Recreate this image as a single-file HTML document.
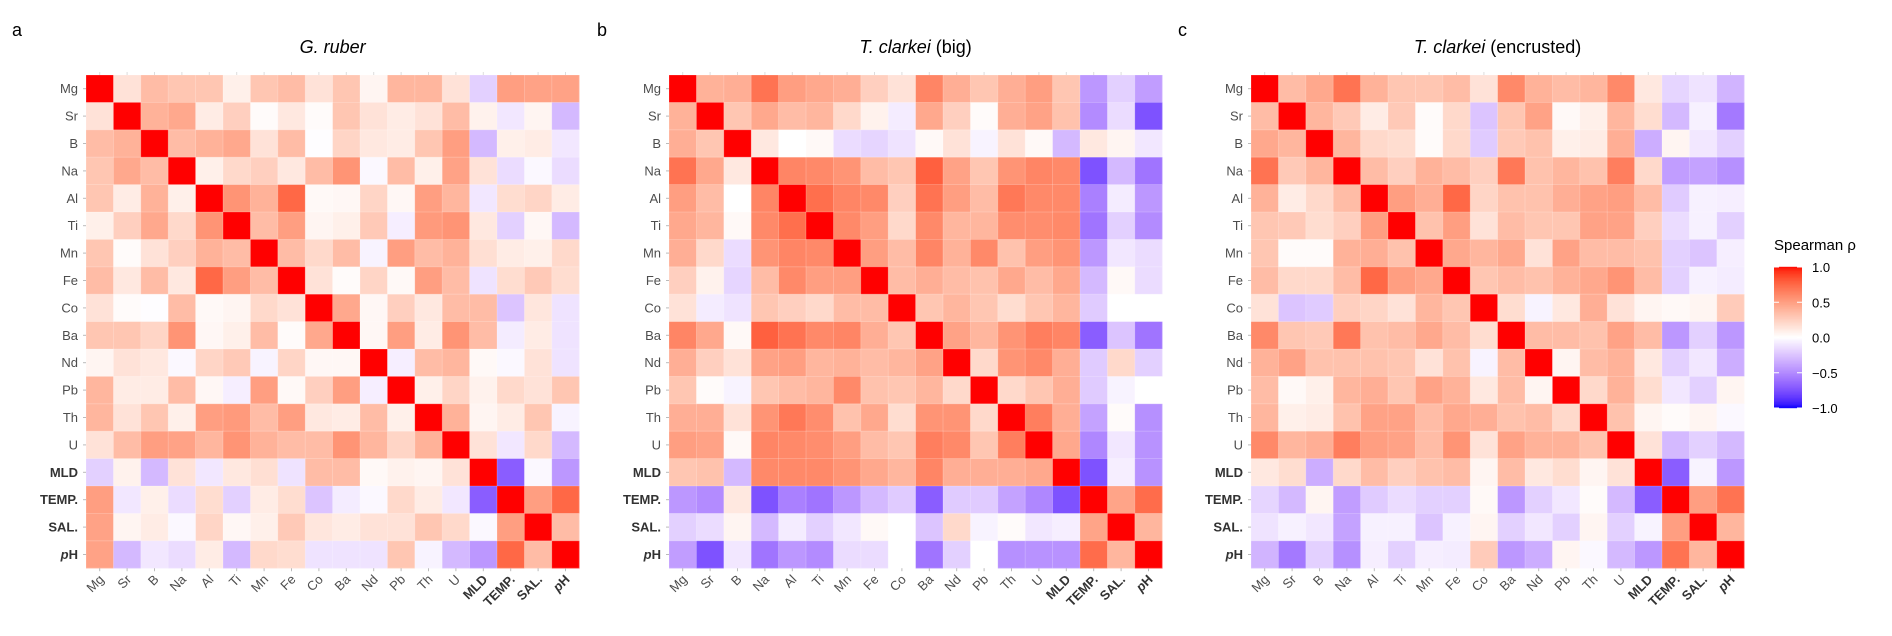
<!DOCTYPE html>
<html><head><meta charset="utf-8">
<style>
html,body{margin:0;padding:0;background:#fff;}
svg{display:block;font-family:"Liberation Sans",Arial,sans-serif;}
</style></head>
<body>
<svg id="chart" width="1892" height="636" viewBox="0 0 1892 636" xmlns="http://www.w3.org/2000/svg"></svg>
<script>
const varLabels = ["Mg","Sr","B","Na","Al","Ti","Mn","Fe","Co","Ba","Nd","Pb","Th","U","MLD","TEMP.","SAL.","pH"];
const boldLabels = ["MLD","TEMP.","SAL.","pH"];
const rubeRho = [[],
[.15],[.35,.4],[.3,.45,.35],[.3,.1,.4,.08],[.08,.25,.45,.2,.55],[.3,.02,.15,.25,.4,.35],
[.35,.12,.35,.12,.75,.5,.35],[.15,.02,-.01,.35,.03,.05,.2,.15],[.3,.3,.22,.55,.04,.08,.35,.02,.45],
[.05,.15,.12,-.03,.22,.28,-.05,.22,.04,.04],[.38,.1,.1,.35,.04,-.07,.5,.03,.25,.5,-.07],
[.38,.15,.3,.08,.5,.52,.35,.5,.12,.1,.35,.08],[.15,.35,.5,.48,.38,.55,.4,.35,.35,.55,.38,.22,.4],
[-.2,.07,-.3,.15,-.1,.12,.17,-.12,.35,.35,.03,.07,.05,.15],
[.5,-.1,.08,-.15,.18,-.2,.1,.18,-.25,-.08,-.03,.2,.1,-.1,-.7],
[.48,.05,.1,-.03,.22,.04,.08,.28,.13,.1,.15,.15,.3,.2,-.03,.5],
[.48,-.3,-.1,-.15,.1,-.3,.2,.18,-.12,-.12,-.12,.3,-.05,-.3,-.45,.75,.35]];
const bigRho = [[],
[.4],[.42,.3],[.7,.45,.12],[.5,.35,0,.62],[.45,.38,.03,.6,.72],[.42,.2,-.15,.55,.62,.6],
[.25,.07,-.18,.35,.6,.5,.5],[.15,-.08,-.12,.3,.25,.2,.35,.35],[.62,.45,.03,.78,.7,.6,.62,.42,.3],
[.42,.25,.15,.48,.5,.38,.4,.35,.38,.48],[.3,.02,-.05,.3,.35,.38,.6,.32,.3,.38,.2],
[.42,.42,.15,.55,.68,.58,.32,.45,.18,.55,.55,.2],[.5,.48,.03,.62,.6,.58,.5,.35,.3,.65,.6,.3,.65],
[.3,.32,-.3,.6,.6,.6,.55,.45,.38,.62,.42,.42,.42,.45],
[-.45,-.5,.12,-.75,-.55,-.6,-.45,-.3,-.22,-.7,-.22,-.22,-.4,-.52,-.75],
[-.2,-.15,.05,-.3,-.08,-.2,-.1,.03,0,-.25,.2,-.05,.02,-.1,-.07,.47],
[-.42,-.75,-.1,-.6,-.45,-.5,-.15,-.15,0,-.6,-.2,0,-.48,-.47,-.47,.73,.38]];
const encRho = [[],
[.35],[.45,.38],[.7,.28,.38],[.4,.1,.2,.35],[.3,.28,.18,.25,.5],[.3,.02,.02,.4,.42,.32],
[.35,.2,.2,.35,.75,.5,.45],[.15,-.25,-.22,.25,.22,.15,.38,.3],[.6,.3,.28,.68,.32,.35,.45,.35,.18],
[.4,.48,.32,.32,.32,.3,.15,.32,-.05,.35],[.35,.03,.08,.38,.42,.3,.48,.4,.12,.35,.05],
[.38,.08,.1,.32,.48,.48,.35,.45,.42,.32,.35,.2],[.6,.38,.42,.65,.5,.48,.35,.55,.15,.48,.4,.4,.32],
[.12,.18,-.35,.2,.35,.25,.32,.35,.05,.35,.12,.18,.05,.15],
[-.18,-.3,.05,-.42,-.22,-.15,-.2,-.2,.03,-.45,-.2,-.1,.02,-.3,-.7],
[-.12,-.06,-.1,-.4,-.06,-.06,-.25,-.06,.05,-.2,-.1,-.2,.05,-.2,-.05,.5],
[-.32,-.58,-.2,-.48,-.07,-.2,-.07,-.08,.27,-.45,-.35,.05,-.03,-.3,-.45,.7,.38]];
const legendTicks = [1.0,0.5,0.0,-0.5,-1.0];
const legendTickLabels = ["1.0","0.5","0.0","\u22120.5","\u22121.0"];

const NS="http://www.w3.org/2000/svg";
const svg=document.getElementById('chart');
function mk(tag,attrs,parent){const e=document.createElementNS(NS,tag);for(const k in attrs)e.setAttribute(k,attrs[k]);(parent||svg).appendChild(e);return e;}

function srgb2lin(c){c/=255;return c<=0.04045?c/12.92:Math.pow((c+0.055)/1.055,2.4);}
function lin2srgb(c){c=c<=0.0031308?12.92*c:1.055*Math.pow(c,1/2.4)-0.055;return Math.max(0,Math.min(255,Math.round(c*255)));}
const Wn=[0.95047,1,1.08883];
function rgb2lab(r,g,b){r=srgb2lin(r);g=srgb2lin(g);b=srgb2lin(b);
 let X=(0.4124*r+0.3576*g+0.1805*b)/Wn[0],Y=(0.2126*r+0.7152*g+0.0722*b)/Wn[1],Z=(0.0193*r+0.1192*g+0.9505*b)/Wn[2];
 const f=t=>t>0.008856?Math.cbrt(t):7.787*t+16/116;X=f(X);Y=f(Y);Z=f(Z);
 return [116*Y-16,500*(X-Y),200*(Y-Z)];}
function lab2rgb(L,a,b){let fy=(L+16)/116,fx=fy+a/500,fz=fy-b/200;
 const fi=t=>t>0.206893?t*t*t:(t-16/116)/7.787;
 let X=fi(fx)*Wn[0],Y=fi(fy)*Wn[1],Z=fi(fz)*Wn[2];
 let r=3.2406*X-1.5372*Y-0.4986*Z,g=-0.9689*X+1.8758*Y+0.0415*Z,bb=0.0557*X-0.2040*Y+1.0570*Z;
 return `rgb(${lin2srgb(r)},${lin2srgb(g)},${lin2srgb(bb)})`;}
const LW=rgb2lab(255,255,255),LR=rgb2lab(255,0,0),LB=rgb2lab(0,0,255);
function colorOf(v){v=Math.max(-1,Math.min(1,v));const t=Math.abs(v),E=v>=0?LR:LB;
 return lab2rgb(LW[0]+(E[0]-LW[0])*t,LW[1]+(E[1]-LW[1])*t,LW[2]+(E[2]-LW[2])*t);}

const CELL=27.4, TOP=75, N=varLabels.length;
function rho(m,i,j){if(i===j)return 1;return i>j?m[i][j]:m[j][i];}

function panel(left,data,letter,titleParts,name,letterX){
 const g=mk('g',{});
 
 
 const cx=left+N*CELL/2;
 const lt=mk('text',{x:letterX,y:36,'font-size':18,fill:'#000'},g);lt.textContent=letter;
 
 
 const tt=mk('text',{x:cx,y:53,'font-size':18,'text-anchor':'middle',fill:'#000'},g);
 
 
 titleParts.forEach(p=>{const s=mk('tspan',p[1]?{'font-style':'italic'}:{},tt);s.textContent=p[0];});
 for(let i=0;i<N;i++){for(let j=0;j<N;j++){
  const r=mk('rect',{x:left+j*CELL,y:TOP+i*CELL,width:CELL+0.3,height:CELL+0.3,fill:colorOf(rho(data,i,j))},g);
  
  
 }}
 for(let k=0;k<=N;k++){
  mk('line',{x1:left+k*CELL,x2:left+k*CELL,y1:TOP,y2:TOP+N*CELL,stroke:'#fff','stroke-opacity':0.25,'stroke-width':0.8},g);
  mk('line',{y1:TOP+k*CELL,y2:TOP+k*CELL,x1:left,x2:left+N*CELL,stroke:'#fff','stroke-opacity':0.25,'stroke-width':0.8},g);
 }
 for(let i=0;i<N;i++){
  const lab=varLabels[i],bold=boldLabels.includes(lab);
  const y=TOP+i*CELL+CELL/2;
  mk('line',{x1:left-3,x2:left,y1:y,y2:y,stroke:'#bbb','stroke-width':1},g);
  const t=mk('text',{x:left-8,y:y+4.5,'font-size':13,'text-anchor':'end',fill:bold?'#333':'#4d4d4d','font-weight':bold?'bold':'normal'},g);
  
  
  fillLabel(t,lab);
  const x=left+i*CELL+CELL/2, yb=TOP+N*CELL;
  mk('line',{x1:x,x2:x,y1:yb,y2:yb+3,stroke:'#bbb','stroke-width':1},g);
  const xt=mk('text',{x:x+5,y:yb+12,'font-size':13,'text-anchor':'end',fill:bold?'#333':'#4d4d4d','font-weight':bold?'bold':'normal',transform:`rotate(-45 ${x+5} ${yb+12})`},g);
  
  
  fillLabel(xt,lab);
  mk('line',{x1:x,x2:x,y1:TOP-3,y2:TOP,stroke:'#ddd','stroke-width':1},g);
 }
}
function fillLabel(t,lab){
 if(lab==='pH'){const a=mk('tspan',{'font-style':'italic'},t);a.textContent='p';const b=mk('tspan',{},t);b.textContent='H';}
 else t.textContent=lab;
}
panel(86,rubeRho,'a',[["G. ruber",true]],'panel-g-ruber',12);
panel(669,bigRho,'b',[["T. clarkei",true],[" (big)",false]],'panel-t-clarkei-big',597);
panel(1251,encRho,'c',[["T. clarkei",true],[" (encrusted)",false]],'panel-t-clarkei-encrusted',1178);

const lg=mk('g',{});


const lt=mk('text',{x:1774,y:250,'font-size':15,fill:'#000'},lg);lt.textContent='Spearman \u03c1';


const LTOP=267,LBOT=408,LX=1774,LWID=28;
function ly(v){return LTOP+(1-v)/2*(LBOT-LTOP);}
for(let k=0;k<100;k++){const v1=1-k*0.02,v2=v1-0.02;
 mk('rect',{x:LX,y:ly(v1)-0.2,width:LWID,height:ly(v2)-ly(v1)+0.4,fill:colorOf((v1+v2)/2)},lg);}
legendTicks.forEach((v,i)=>{const y=ly(v);
 mk('line',{x1:LX,x2:LX+5,y1:y,y2:y,stroke:'#fff','stroke-width':1},lg);
 mk('line',{x1:LX+LWID-5,x2:LX+LWID,y1:y,y2:y,stroke:'#fff','stroke-width':1},lg);
 const t=mk('text',{x:1812,y:y+5,'font-size':13,fill:'#000'},lg);t.textContent=legendTickLabels[i];
 
 
});
</script>
</body></html>
